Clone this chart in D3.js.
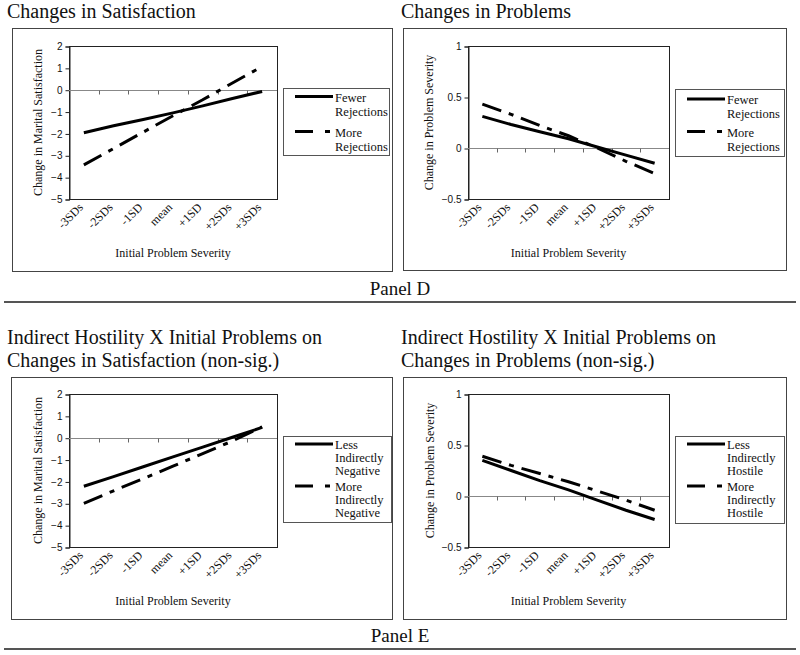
<!DOCTYPE html>
<html>
<head>
<meta charset="utf-8">
<script src="https://cdn.jsdelivr.net/npm/d3@7"></script>
<style>
  body { margin: 0; background: #fff; }
  svg { display: block; }
</style>
</head>
<body>
<div id="chart"></div>
<script>
// Category labels shared by all four panels
const categories = ["-3SDs", "-2SDs", "-1SD", "mean", "+1SD", "+2SDs", "+3SDs"];

// Panel D, left: satisfaction change
const fewerRejSat = [-1.97, -1.65, -1.36, -1.06, -0.74, -0.40, -0.08];
const moreRejSat = [-3.44, -2.69, -1.94, -1.19, -0.46, 0.31, 1.06];
// Panel D, right: problem change
const fewerRejProb = [0.31, 0.23, 0.16, 0.09, 0.01, -0.07, -0.15];
const moreRejProb = [0.43, 0.33, 0.22, 0.12, 0.0, -0.13, -0.25];
// Panel E, left: satisfaction change
const lessNegSat = [-2.22, -1.78, -1.33, -0.88, -0.43, 0.02, 0.47];
const moreNegSat = [-3.0, -2.43, -1.87, -1.3, -0.73, -0.15, 0.5];
// Panel E, right: problem change
const lessHostProb = [0.35, 0.25, 0.15, 0.06, -0.04, -0.14, -0.23];
const moreHostProb = [0.39, 0.30, 0.22, 0.14, 0.05, -0.04, -0.14];

// Axis tick values
const satTicks = [2, 1, 0, -1, -2, -3, -4, -5];
const probTicks = [1, 0.5, 0, -0.5];

const width = 800;
const height = 655;
const serif = "'Liberation Serif', 'Times New Roman', serif";
const sans = "'Liberation Sans', Arial, sans-serif";

const svg = d3
  .select("#chart")
  .append("svg")
  .attr("width", width)
  .attr("height", height);

// Draw one Excel-style panel
function drawPanel(cfg) {
  const g = svg.append("g");

  // title lines
  cfg.title.forEach((t, i) => {
    g.append("text")
      .attr("x", cfg.titleX)
      .attr("y", cfg.titleY + i * 23)
      .style("font-family", serif)
      .style("font-size", "20px")
      .attr("fill", "#111")
      .text(t);
  });

  // outer frame
  g.append("rect")
    .attr("x", cfg.box[0] + 0.5)
    .attr("y", cfg.box[1] + 0.5)
    .attr("width", cfg.box[2] - cfg.box[0])
    .attr("height", cfg.box[3] - cfg.box[1])
    .attr("fill", "none")
    .attr("stroke", "#444")
    .attr("stroke-width", 1);

  const [px0, py0, px1, py1] = cfg.plot;

  const x = d3.scaleBand().domain(categories).range([px0, px1]);
  const y = d3.scaleLinear().domain(cfg.yDomain).range([py1, py0]);

  // plot area border
  g.append("rect")
    .attr("x", px0 + 0.5)
    .attr("y", py0 + 0.5)
    .attr("width", px1 - px0)
    .attr("height", py1 - py0)
    .attr("fill", "none")
    .attr("stroke", "#222")
    .attr("stroke-width", 1);

  // y axis
  const yAxis = g
    .append("g")
    .attr("transform", `translate(${px0 + 0.5},0.5)`)
    .call(
      d3.axisLeft(y)
        .tickValues(cfg.yTicks)
        .tickSize(4)
        .tickPadding(3)
        .tickFormat(d3.format(cfg.yFormat))
    );
  yAxis.select(".domain").attr("stroke", "#222");
  yAxis.selectAll(".tick line").attr("stroke", "#222");
  yAxis
    .selectAll(".tick text")
    .style("font-family", sans)
    .style("font-size", "10px")
    .attr("fill", "#111");

  // zero line with category ticks
  const y0 = Math.round(y(0)) + 0.5;
  g.append("line")
    .attr("x1", px0)
    .attr("x2", px1)
    .attr("y1", y0)
    .attr("y2", y0)
    .attr("stroke", "#888")
    .attr("stroke-width", 1);

  g.selectAll("line.cat-tick")
    .data(categories.slice(1))
    .enter()
    .append("line")
    .attr("class", "cat-tick")
    .attr("x1", (d) => Math.round(x(d)) + 0.5)
    .attr("x2", (d) => Math.round(x(d)) + 0.5)
    .attr("y1", y0)
    .attr("y2", y0 + 4)
    .attr("stroke", "#666");

  // rotated category labels
  g.selectAll("text.cat-label")
    .data(categories)
    .enter()
    .append("text")
    .attr("class", "cat-label")
    .attr("text-anchor", "end")
    .attr(
      "transform",
      (d) => `translate(${x(d) + x.bandwidth() / 2},${py1 + 9}) rotate(-45)`
    )
    .style("font-family", serif)
    .style("font-size", "12px")
    .attr("fill", "#111")
    .text((d) => d);

  // axis titles
  g.append("text")
    .attr("x", (px0 + px1) / 2)
    .attr("y", cfg.xTitleY)
    .attr("text-anchor", "middle")
    .style("font-family", serif)
    .style("font-size", "12px")
    .attr("fill", "#111")
    .text("Initial Problem Severity");

  g.append("text")
    .attr(
      "transform",
      `translate(${cfg.yTitleX},${(py0 + py1) / 2}) rotate(-90)`
    )
    .attr("text-anchor", "middle")
    .attr("dy", "0.35em")
    .style("font-family", serif)
    .style("font-size", "12px")
    .attr("fill", "#111")
    .text(cfg.yTitle);

  // series lines
  const line = d3
    .line()
    .x((d, i) => x(categories[i]) + x.bandwidth() / 2)
    .y((d) => y(d));

  cfg.series.forEach((s) => {
    g.append("path")
      .datum(s.values)
      .attr("d", line)
      .attr("fill", "none")
      .attr("stroke", "#000")
      .attr("stroke-width", 3)
      .attr("stroke-dasharray", s.dash ? "20,8,5,8" : null);
  });

  // legend
  const [lx0, ly0, lx1, ly1] = cfg.legendBox;
  g.append("rect")
    .attr("x", lx0 + 0.5)
    .attr("y", ly0 + 0.5)
    .attr("width", lx1 - lx0)
    .attr("height", ly1 - ly0)
    .attr("fill", "#fff")
    .attr("stroke", "#555")
    .attr("stroke-width", 1);

  cfg.series.forEach((s, i) => {
    const sy = cfg.legendY[i];
    g.append("line")
      .attr("x1", lx0 + 12)
      .attr("x2", lx0 + 50)
      .attr("y1", sy)
      .attr("y2", sy)
      .attr("stroke", "#000")
      .attr("stroke-width", 3)
      .attr("stroke-dasharray", s.dash ? "18,12,5,10" : null);

    s.label.forEach((t, j) => {
      g.append("text")
        .attr("x", lx0 + 52)
        .attr("y", sy + 5 + j * cfg.legendGap)
        .style("font-family", serif)
        .style("font-size", "12.5px")
        .attr("fill", "#111")
        .text(t);
    });
  });
}

// Panel D
drawPanel({
  title: ["Changes in Satisfaction"],
  titleX: 7,
  titleY: 18,
  box: [12, 28, 392, 271],
  plot: [69, 46, 277, 199],
  yDomain: [-5, 2],
  yTicks: satTicks,
  yFormat: "d",
  yTitle: "Change in Marital Satisfaction",
  yTitleX: 38,
  xTitleY: 257,
  legendBox: [283, 88, 389, 155],
  legendY: [96.5, 131.5],
  legendGap: 14,
  series: [
    { values: fewerRejSat, dash: false, label: ["Fewer", "Rejections"] },
    { values: moreRejSat, dash: true, label: ["More", "Rejections"] }
  ]
});

drawPanel({
  title: ["Changes in Problems"],
  titleX: 401,
  titleY: 18,
  box: [403, 28, 786, 270],
  plot: [468, 46, 669, 199],
  yDomain: [-0.5, 1],
  yTicks: probTicks,
  yFormat: "",
  yTitle: "Change in Problem Severity",
  yTitleX: 429,
  xTitleY: 257,
  legendBox: [675, 89, 784, 156],
  legendY: [99, 131.5],
  legendGap: 14,
  series: [
    { values: fewerRejProb, dash: false, label: ["Fewer", "Rejections"] },
    { values: moreRejProb, dash: true, label: ["More", "Rejections"] }
  ]
});

// Panel E
drawPanel({
  title: ["Indirect Hostility X Initial Problems on", "Changes in Satisfaction (non-sig.)"],
  titleX: 7,
  titleY: 344,
  box: [11, 377, 392, 619],
  plot: [69, 394, 277, 547],
  yDomain: [-5, 2],
  yTicks: satTicks,
  yFormat: "d",
  yTitle: "Change in Marital Satisfaction",
  yTitleX: 38,
  xTitleY: 605,
  legendBox: [283, 436, 391, 522],
  legendY: [444, 486],
  legendGap: 13,
  series: [
    { values: lessNegSat, dash: false, label: ["Less", "Indirectly", "Negative"] },
    { values: moreNegSat, dash: true, label: ["More", "Indirectly", "Negative"] }
  ]
});

drawPanel({
  title: ["Indirect Hostility X Initial Problems on", "Changes in Problems (non-sig.)"],
  titleX: 401,
  titleY: 344,
  box: [403, 377, 786, 619],
  plot: [468, 394, 669, 547],
  yDomain: [-0.5, 1],
  yTicks: probTicks,
  yFormat: "",
  yTitle: "Change in Problem Severity",
  yTitleX: 430,
  xTitleY: 605,
  legendBox: [675, 436, 784, 523],
  legendY: [444, 486],
  legendGap: 13,
  series: [
    { values: lessHostProb, dash: false, label: ["Less", "Indirectly", "Hostile"] },
    { values: moreHostProb, dash: true, label: ["More", "Indirectly", "Hostile"] }
  ]
});

// Panel captions and separators
[
  { label: "Panel D", y: 295, ruleY: 302 },
  { label: "Panel E", y: 642, ruleY: 649 }
].forEach((p) => {
  svg.append("text")
    .attr("x", 400)
    .attr("y", p.y)
    .attr("text-anchor", "middle")
    .style("font-family", serif)
    .style("font-size", "19px")
    .attr("fill", "#111")
    .text(p.label);
  svg.append("line")
    .attr("x1", 4)
    .attr("x2", 796)
    .attr("y1", p.ruleY)
    .attr("y2", p.ruleY)
    .attr("stroke", "#555")
    .attr("stroke-width", 2);
});
</script>
</body>
</html>
